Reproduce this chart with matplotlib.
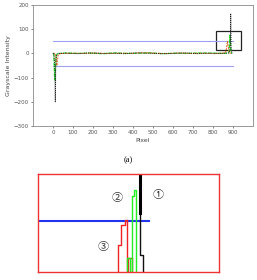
import matplotlib
matplotlib.use("Agg")
import matplotlib.pyplot as plt
from matplotlib.patches import Rectangle

# ---- top panel data (pixel vs grayscale intensity) ----
black_x = [0, 5, 10, 11, 12, 13, 14, 16, 20, 25, 60, 120, 180, 240, 300, 360, 420, 480, 540, 600, 660, 720, 780, 840, 870, 880, 885, 888, 889, 890, 891, 893, 896]
black_y = [0, 0, -60, -160, -200, -150, -60, -20, -5, -1, 1, -1, 2, 0, 1, -1, 2, 1, -1, 0, 2, -1, 1, 0, 1, 2, 10, 60, 165, 120, 30, 5, 0]
green_x = [0, 4, 6, 8, 10, 12, 14, 16, 20, 30, 70, 130, 190, 250, 310, 370, 430, 490, 550, 610, 670, 730, 790, 850, 875, 880, 883, 885, 887, 889, 892, 896]
green_y = [0, 0, -40, -90, -110, -80, -40, -10, -3, 0, 2, 0, 1, -1, 2, 0, 1, 2, -1, 1, 0, 2, 1, 0, 2, 5, 40, 75, 60, 20, 3, 0]
red_x = [0, 10, 14, 17, 20, 23, 26, 35, 90, 150, 210, 270, 330, 390, 450, 510, 570, 630, 690, 750, 810, 860, 866, 870, 873, 876, 880, 884, 890]
red_y = [0, 0, -10, -35, -50, -30, -8, -1, 1, 0, 2, -1, 1, 0, 3, 1, -1, 2, 0, 1, -1, 2, 10, 35, 50, 30, 10, 2, 0]
threshold_levels = [50, -50]
threshold_span = [0, 900]
zoom_box = [815, 13, 125, 80]  # x, y, width, height
x_ticks = [0, 100, 200, 300, 400, 500, 600, 700, 800, 900]
y_ticks = [-300, -200, -100, 0, 100, 200]

# ---- bottom panel (zoomed view, normalised units) ----
zb_black_x = [56.4, 56.4]
zb_black_y = [100, 60]
zb_black2_x = [56.4, 56.4, 58.2, 58.2]
zb_black2_y = [60, 17, 17, 0]
zb_green_x = [49.3, 49.3, 51.0, 51.0, 52.1, 52.1, 52.8, 52.8, 53.9, 53.9]
zb_green_y = [0, 14, 14, 0, 0, 77, 77, 84, 84, 0]
zb_red_x = [44.4, 44.4, 45.9, 45.9, 48.1, 48.1, 49.0, 49.0, 49.9, 49.9, 51.8, 51.8]
zb_red_y = [0, 27, 27, 48, 48, 53, 53, 0, 0, 14, 14, 0]
zb_blue_x = [0, 61.3]
zb_blue_y = [52.3, 52.3]
zb_labels = ["①", "②", "③"]
zb_label_x = [66.3, 43.5, 36.0]
zb_label_y = [78.6, 75.5, 25.8]

fig = plt.figure(figsize=(2.57, 2.80), dpi=100)

ax = fig.add_axes([0.128, 0.55, 0.856, 0.432])
for lvl in threshold_levels:
    ax.plot(threshold_span, [lvl, lvl], color="#a0a0f2", lw=0.8)
ax.plot(green_x, green_y, color="#22dd22", lw=0.9, ls=(0, (3, 1)))
ax.plot(red_x, red_y, color="#dd6622", lw=0.7, ls=(0, (2, 1)))
ax.plot(black_x, black_y, color="#222222", lw=0.7, ls=(0, (1, 1)))
ax.add_patch(Rectangle((zoom_box[0], zoom_box[1]), zoom_box[2], zoom_box[3],
                       fill=False, edgecolor="#222222", lw=0.9))
ax.set_xlim(-100, 1000)
ax.set_ylim(-300, 200)
ax.set_xticks(x_ticks)
ax.set_yticks(y_ticks)
ax.tick_params(labelsize=4, colors="#555555", length=1.5, width=0.5, pad=1.5)
for s in ax.spines.values():
    s.set_color("#999999")
    s.set_linewidth(0.7)
ax.set_xlabel("Pixel", fontsize=4.5, color="#444444", labelpad=2)
ax.set_ylabel("Grayscale Intensity", fontsize=4.5, color="#444444", labelpad=2)

fig.text(0.498, 0.428, "(a)", fontsize=6, family="Liberation Serif", ha="center", va="center")

bx = fig.add_axes([0.148, 0.029, 0.704, 0.35])
bx.set_xlim(0, 100)
bx.set_ylim(0, 100)
bx.set_xticks([])
bx.set_yticks([])
for s in bx.spines.values():
    s.set_color("#ee3333")
    s.set_linewidth(1.0)
bx.plot(zb_blue_x, zb_blue_y, color="#2233ee", lw=1.5)
bx.plot(zb_red_x, zb_red_y, color="#ee2222", lw=1.0)
bx.plot(zb_green_x, zb_green_y, color="#22ee22", lw=1.0)
bx.plot(zb_black2_x, zb_black2_y, color="#111111", lw=1.0)
bx.plot(zb_black_x, zb_black_y, color="#000000", lw=2.2)
for t, tx, ty in zip(zb_labels, zb_label_x, zb_label_y):
    bx.text(tx, ty, t, fontsize=8, family=["Noto Sans CJK JP", "DejaVu Sans"],
            ha="center", va="center", color="#333333")

fig.savefig("out.png", dpi=100)
